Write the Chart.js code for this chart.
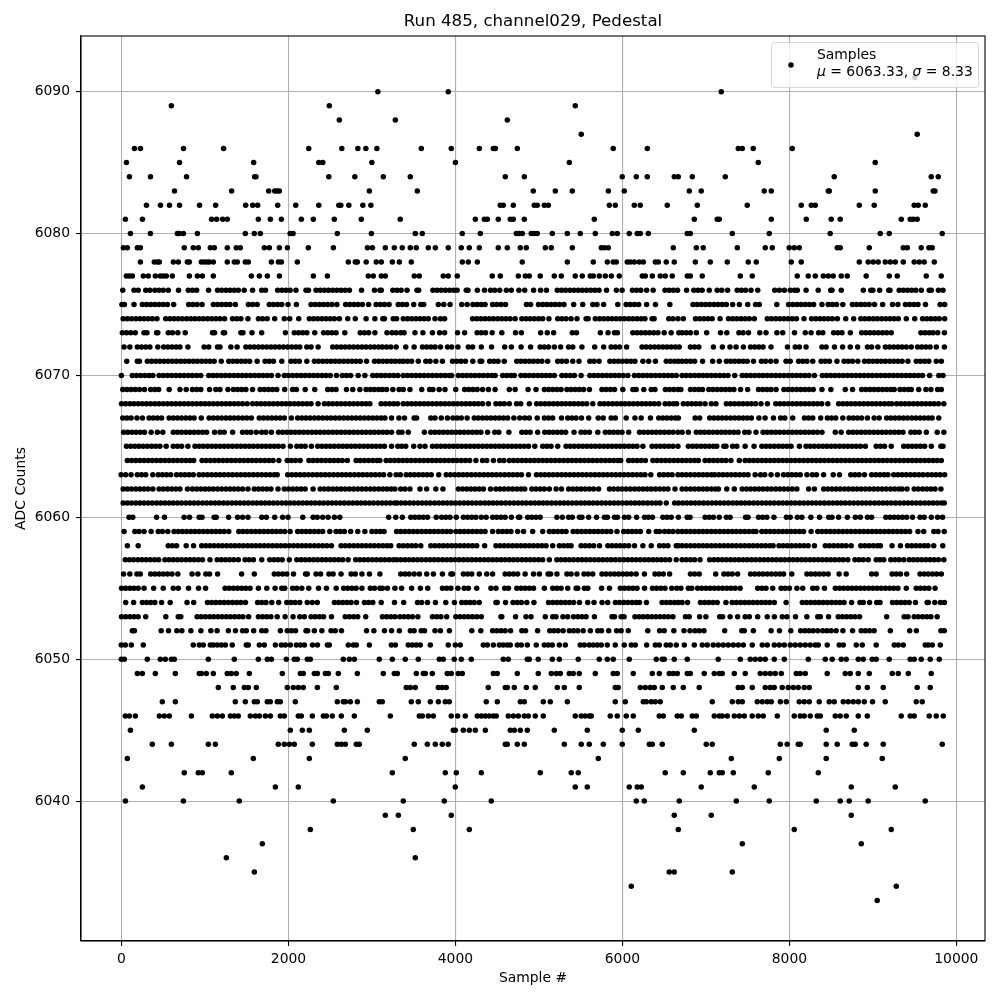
<!DOCTYPE html>
<html>
<head>
<meta charset="utf-8">
<title>Run 485, channel029, Pedestal</title>
<script src="https://cdn.jsdelivr.net/npm/chart.js@4/dist/chart.umd.min.js"></script>
<style>
  html, body { margin: 0; padding: 0; background: #fff; }
  #wrap { width: 1000px; height: 1000px; }
</style>
</head>
<body>
<div id="wrap"><canvas id="myChart" width="1000" height="1000"></canvas></div>
<script>
// Tick labels
const xTicks = [0, 2000, 4000, 6000, 8000, 10000];
const yTicks = [6040, 6050, 6060, 6070, 6080, 6090];

// Sample numbers, one list per ADC level
const r6091 = [9503];
const r6090 = [3071, 3914, 7184];
const r6089 = [597, 2489, 5435];
const r6088 = [2609, 3280, 4621];
const r6087 = [5507, 9531];
const r6086 = [155, 227, 743, 1223, 2243, 2639, 2831, 2927, 3059, 3591, 3950, 4286, 4454, 4478, 4741, 5890, 6298, 7388, 7436, 7567, 8034];
const r6085 = [59, 695, 1583, 2363, 2411, 2999, 4000, 5364, 7627, 9028];
const r6084 = [95, 347, 779, 1595, 1611, 2483, 2795, 3136, 3459, 4597, 4825, 5998, 6166, 6298, 6621, 6669, 6837, 7232, 8537, 9699, 9783];
const r6083 = [635, 1319, 1763, 1835, 1863, 1891, 2969, 3543, 4932, 5196, 5400, 5831, 6022, 6801, 6944, 7699, 7783, 8466, 8478, 9028, 9723, 9743];
const r6082 = [299, 467, 575, 695, 935, 1127, 1487, 1571, 1631, 1871, 2087, 2363, 2603, 2627, 2723, 2891, 2987, 4537, 4573, 4693, 4944, 4980, 5064, 5112, 5843, 5915, 6142, 6214, 6537, 6897, 7495, 8142, 8262, 8310, 8837, 9016, 9495, 9543, 9627];
const r6081 = [47, 251, 1079, 1139, 1211, 1267, 1639, 1783, 1915, 2154, 2298, 2549, 2873, 3339, 4238, 4346, 4382, 4513, 4657, 4693, 4825, 5663, 6861, 7136, 7160, 7783, 8202, 8501, 8609, 9340, 9447, 9483, 9531];
const r6080 = [107, 347, 669, 693, 741, 909, 1483, 1591, 1663, 2020, 2055, 2585, 2993, 3519, 3603, 4082, 4298, 4729, 4765, 4801, 4908, 4944, 4980, 5160, 5340, 5495, 5675, 5879, 5938, 6082, 6178, 6214, 6310, 6777, 6813, 7316, 7759, 8489, 9088, 9196, 9831];
const r6079 = [22, 70, 190, 226, 752, 860, 920, 1064, 1112, 1267, 1375, 1423, 1711, 1771, 1891, 1987, 2238, 2538, 2946, 3006, 3160, 3268, 3363, 3459, 3531, 3675, 3759, 3914, 4070, 4166, 4286, 4513, 4621, 4777, 4849, 5076, 5148, 5400, 5747, 5783, 5831, 6609, 6885, 6968, 7376, 7711, 7795, 7998, 8058, 8118, 8573, 8609, 8957, 9364, 9412, 9579, 9671, 9711];
const r6078 = [226, 393, 429, 453, 621, 681, 789, 813, 956, 992, 1028, 1052, 1100, 1267, 1351, 1387, 1483, 1519, 1795, 1879, 1915, 2106, 2717, 2801, 2825, 2931, 3051, 3112, 3244, 3328, 3471, 4082, 4154, 4262, 4800, 5340, 5651, 5819, 5890, 5926, 6058, 6094, 6142, 6202, 6250, 6394, 6430, 6525, 6621, 6873, 7052, 7256, 7507, 7603, 8022, 8142, 8837, 8944, 9004, 9064, 9148, 9208, 9268, 9364, 9495, 9555, 9615, 9735];
const r6077 = [58, 94, 130, 261, 321, 405, 465, 501, 537, 609, 813, 909, 969, 1100, 1555, 1651, 1747, 1891, 2298, 2466, 2956, 3016, 3112, 3160, 3507, 3567, 3854, 3914, 4022, 4441, 4537, 4753, 4837, 4884, 5016, 5184, 5268, 5435, 5519, 5615, 5651, 5723, 5795, 5867, 5962, 6238, 6274, 6358, 6453, 6513, 6597, 6777, 6813, 6956, 7412, 7555, 8094, 8226, 8310, 8406, 8466, 8525, 8621, 8693, 8920, 9196, 9292, 9639, 9819];
const r6076 = [15, 150, 200, 290, 340, 400, 450, 500, 560, 683, 800, 850, 900, 1043, 1150, 1200, 1250, 1300, 1350, 1400, 1470, 1570, 1680, 1725, 1870, 1920, 1970, 2020, 2090, 2210, 2240, 2330, 2380, 2430, 2480, 2530, 2580, 2630, 2680, 2730, 2875, 3030, 3095, 3112, 3250, 3300, 3350, 3420, 3540, 3560, 3730, 3780, 3830, 3880, 3930, 3980, 4020, 4130, 4150, 4262, 4348, 4420, 4470, 4530, 4610, 4670, 4760, 4830, 4936, 5020, 5090, 5220, 5270, 5320, 5370, 5420, 5470, 5520, 5570, 5620, 5670, 5720, 5810, 5928, 5996, 6120, 6170, 6220, 6290, 6368, 6510, 6560, 6610, 6660, 6769, 6855, 6905, 6955, 7040, 7135, 7190, 7260, 7375, 7425, 7475, 7540, 7621, 7825, 7880, 7940, 8010, 8060, 8095, 8200, 8345, 8495, 8510, 8621, 8885, 8975, 9000, 9081, 9190, 9205, 9315, 9365, 9415, 9465, 9515, 9580, 9675, 9700, 9785, 9840];
const r6075 = [5, 35, 150, 250, 300, 350, 400, 450, 500, 550, 625, 805, 855, 905, 965, 1100, 1150, 1200, 1250, 1300, 1365, 1520, 1570, 1625, 1770, 1820, 1870, 1920, 1995, 2095, 2270, 2320, 2370, 2420, 2470, 2520, 2580, 2685, 2735, 2785, 2835, 2885, 2960, 3050, 3100, 3150, 3205, 3315, 3365, 3415, 3500, 3585, 3620, 3795, 3860, 3935, 4075, 4140, 4210, 4260, 4310, 4355, 4445, 4495, 4545, 4600, 4850, 4900, 4995, 5045, 5095, 5145, 5195, 5245, 5300, 5416, 5524, 5645, 5695, 5775, 5944, 6045, 6095, 6145, 6195, 6290, 6396, 6568, 6845, 6895, 6945, 6995, 7045, 7095, 7145, 7195, 7245, 7320, 7401, 7501, 7595, 7640, 7849, 7990, 8040, 8090, 8140, 8190, 8240, 8290, 8390, 8465, 8515, 8565, 8640, 8755, 8805, 8855, 8905, 8955, 9020, 9117, 9235, 9300, 9390, 9440, 9490, 9540, 9630, 9805, 9860];
const r6074 = [20, 70, 120, 170, 220, 270, 320, 370, 425, 530, 580, 630, 680, 730, 780, 830, 880, 930, 980, 1030, 1080, 1130, 1180, 1235, 1330, 1380, 1430, 1515, 1640, 1690, 1745, 1835, 1950, 2015, 2123, 2250, 2300, 2350, 2400, 2450, 2500, 2550, 2610, 2710, 2800, 2930, 3035, 3130, 3150, 3255, 3295, 3375, 3425, 3475, 3525, 3575, 3625, 3675, 3755, 3820, 3870, 4205, 4255, 4305, 4355, 4405, 4455, 4505, 4555, 4605, 4655, 4715, 4795, 4845, 4895, 4945, 4995, 5045, 5120, 5225, 5275, 5325, 5385, 5456, 5565, 5590, 5675, 5725, 5775, 5825, 5875, 5925, 5975, 6025, 6075, 6125, 6175, 6225, 6270, 6355, 6380, 6555, 6605, 6665, 6729, 6875, 6925, 6975, 7025, 7075, 7170, 7270, 7320, 7370, 7420, 7470, 7520, 7580, 7735, 7785, 7835, 7885, 7935, 7985, 8035, 8085, 8175, 8265, 8315, 8365, 8415, 8465, 8515, 8575, 8675, 8770, 8855, 8905, 8955, 9005, 9055, 9105, 9155, 9205, 9255, 9305, 9400, 9501, 9595, 9645, 9695, 9745, 9795, 9860];
const r6073 = [10, 60, 110, 165, 270, 305, 420, 435, 560, 610, 675, 763, 1090, 1115, 1220, 1235, 1430, 1455, 1563, 1679, 1963, 2070, 2120, 2170, 2220, 2315, 2420, 2470, 2520, 2570, 2675, 2860, 2910, 2960, 3035, 3180, 3240, 3290, 3345, 3385, 3515, 3610, 3724, 3810, 3870, 4025, 4110, 4260, 4310, 4360, 4440, 4556, 4720, 4790, 5020, 5100, 5176, 5400, 5450, 5736, 5828, 5905, 5940, 6125, 6175, 6225, 6275, 6325, 6375, 6425, 6500, 6584, 6676, 6715, 6765, 6815, 6885, 7009, 7175, 7250, 7395, 7445, 7510, 7645, 7720, 7850, 7920, 8061, 8190, 8260, 8350, 8400, 8530, 8580, 8630, 8730, 8865, 8915, 8965, 9015, 9065, 9115, 9165, 9220, 9575, 9625, 9675, 9720, 9777, 9857];
const r6072 = [30, 100, 190, 240, 290, 340, 435, 505, 555, 605, 655, 700, 795, 990, 1045, 1150, 1180, 1310, 1385, 1490, 1540, 1590, 1640, 1690, 1740, 1790, 1840, 1890, 1940, 1990, 2040, 2090, 2135, 2220, 2270, 2355, 2530, 2580, 2630, 2680, 2730, 2780, 2830, 2880, 2930, 2980, 3030, 3080, 3125, 3175, 3225, 3290, 3405, 3505, 3605, 3655, 3705, 3755, 3820, 3905, 3955, 4030, 4155, 4205, 4310, 4432, 4590, 4670, 4786, 4900, 5015, 5065, 5115, 5185, 5260, 5355, 5405, 5515, 5668, 5776, 5865, 5915, 5965, 6050, 6235, 6285, 6335, 6385, 6435, 6485, 6535, 6585, 6635, 6680, 6815, 6865, 6915, 7090, 7197, 7289, 7361, 7449, 7535, 7585, 7635, 7685, 7780, 7977, 8070, 8120, 8200, 8390, 8440, 8540, 8637, 8729, 8817, 8935, 8985, 9060, 9150, 9200, 9250, 9300, 9350, 9400, 9460, 9535, 9585, 9635, 9685, 9760, 9857];
const r6071 = [63, 190, 215, 310, 360, 410, 460, 510, 560, 610, 660, 710, 760, 810, 860, 910, 960, 1010, 1060, 1110, 1195, 1285, 1335, 1385, 1435, 1485, 1535, 1625, 1720, 1770, 1820, 1920, 2030, 2080, 2130, 2220, 2310, 2360, 2410, 2460, 2510, 2560, 2610, 2660, 2710, 2760, 2810, 2860, 2935, 3030, 3080, 3130, 3180, 3230, 3280, 3330, 3375, 3425, 3475, 3555, 3645, 3695, 3765, 3844, 3965, 4015, 4065, 4120, 4208, 4295, 4315, 4410, 4460, 4510, 4585, 4735, 4785, 4835, 4885, 4935, 4985, 5035, 5105, 5225, 5275, 5330, 5405, 5480, 5610, 5660, 5720, 5850, 5900, 5950, 6000, 6050, 6100, 6150, 6245, 6315, 6396, 6525, 6575, 6625, 6670, 6715, 6765, 6815, 6865, 6960, 7080, 7160, 7245, 7295, 7345, 7395, 7445, 7495, 7570, 7665, 7715, 7775, 7841, 7960, 8010, 8110, 8160, 8210, 8280, 8380, 8430, 8480, 8570, 8655, 8705, 8755, 8820, 8900, 8950, 9000, 9050, 9100, 9150, 9200, 9250, 9300, 9350, 9420, 9520, 9570, 9620, 9670, 9760, 9820];
const r6070 = [-1, 130, 180, 230, 280, 330, 375, 450, 500, 550, 600, 650, 700, 750, 800, 850, 900, 950, 1045, 1095, 1145, 1195, 1245, 1295, 1345, 1395, 1445, 1495, 1545, 1595, 1645, 1695, 1745, 1795, 1875, 1950, 2000, 2050, 2100, 2150, 2200, 2250, 2300, 2350, 2400, 2450, 2500, 2575, 2645, 2695, 2745, 2835, 2915, 3010, 3060, 3110, 3160, 3210, 3260, 3310, 3375, 3425, 3475, 3525, 3575, 3625, 3675, 3725, 3775, 3825, 3875, 3925, 3955, 4035, 4085, 4135, 4185, 4235, 4285, 4335, 4385, 4435, 4475, 4565, 4615, 4665, 4705, 4785, 4835, 4885, 4935, 4985, 5035, 5085, 5135, 5185, 5275, 5325, 5375, 5425, 5505, 5610, 5660, 5710, 5760, 5810, 5860, 5910, 5960, 6010, 6065, 6145, 6195, 6245, 6295, 6345, 6395, 6445, 6495, 6545, 6595, 6645, 6715, 6765, 6815, 6865, 6915, 6965, 7015, 7065, 7115, 7165, 7215, 7265, 7345, 7435, 7485, 7535, 7585, 7635, 7685, 7735, 7785, 7835, 7885, 7935, 7985, 8035, 8085, 8135, 8185, 8235, 8300, 8395, 8445, 8495, 8545, 8595, 8645, 8695, 8745, 8795, 8845, 8895, 8945, 8995, 9045, 9095, 9145, 9195, 9245, 9295, 9345, 9395, 9445, 9495, 9545, 9595, 9680, 9790, 9840];
const r6069 = [15, 65, 115, 165, 215, 275, 350, 400, 445, 571, 700, 775, 850, 900, 950, 1055, 1130, 1180, 1275, 1340, 1390, 1440, 1490, 1570, 1660, 1710, 1760, 1810, 1860, 1955, 2050, 2095, 2200, 2315, 2470, 2520, 2570, 2695, 2770, 2855, 2930, 2980, 3030, 3080, 3125, 3175, 3250, 3325, 3375, 3455, 3596, 3690, 3730, 3805, 3875, 4004, 4110, 4160, 4210, 4260, 4325, 4395, 4475, 4645, 4715, 4870, 4965, 5065, 5115, 5165, 5215, 5265, 5335, 5385, 5435, 5485, 5535, 5605, 5755, 5805, 5855, 5905, 6005, 6125, 6165, 6256, 6345, 6390, 6515, 6565, 6615, 6665, 6700, 6815, 6865, 6915, 6960, 7035, 7085, 7135, 7185, 7235, 7285, 7335, 7415, 7500, 7630, 7680, 7730, 7780, 7840, 7935, 7985, 8035, 8085, 8135, 8185, 8235, 8285, 8390, 8497, 8669, 8757, 8865, 8915, 8965, 9015, 9065, 9115, 9165, 9215, 9255, 9325, 9375, 9425, 9460, 9549, 9635, 9695, 9775, 9820];
const r6068 = [0, 50, 100, 150, 200, 250, 300, 350, 400, 450, 500, 550, 600, 650, 700, 750, 800, 850, 900, 950, 1000, 1050, 1100, 1150, 1200, 1250, 1300, 1350, 1400, 1450, 1505, 1570, 1620, 1670, 1720, 1770, 1820, 1870, 1920, 1970, 2020, 2070, 2120, 2170, 2220, 2270, 2355, 2430, 2480, 2530, 2580, 2630, 2680, 2730, 2780, 2830, 2880, 2930, 2975, 3110, 3160, 3210, 3260, 3306, 3374, 3424, 3474, 3524, 3574, 3624, 3674, 3724, 3774, 3824, 3874, 3924, 3974, 4024, 4074, 4124, 4174, 4224, 4274, 4324, 4395, 4485, 4535, 4585, 4645, 4732, 4782, 4885, 4972, 5022, 5072, 5122, 5172, 5222, 5272, 5322, 5372, 5422, 5472, 5522, 5572, 5645, 5732, 5782, 5832, 5882, 5932, 5982, 6032, 6082, 6132, 6182, 6232, 6282, 6332, 6382, 6435, 6512, 6562, 6612, 6650, 6730, 6780, 6830, 6880, 6930, 6990, 7065, 7120, 7245, 7295, 7345, 7395, 7445, 7495, 7545, 7595, 7660, 7737, 7837, 7887, 7937, 7987, 8037, 8087, 8137, 8187, 8237, 8287, 8337, 8387, 8460, 8590, 8640, 8690, 8740, 8790, 8840, 8890, 8940, 8990, 9040, 9090, 9140, 9190, 9225, 9285, 9335, 9385, 9435, 9485, 9535, 9585, 9635, 9685, 9735, 9785, 9850];
const r6067 = [15, 65, 115, 185, 251, 330, 380, 430, 480, 570, 620, 670, 720, 770, 820, 870, 955, 1050, 1100, 1150, 1200, 1250, 1300, 1350, 1400, 1450, 1500, 1555, 1650, 1700, 1750, 1800, 1850, 1900, 1950, 2035, 2110, 2160, 2210, 2260, 2310, 2360, 2410, 2460, 2510, 2560, 2610, 2660, 2710, 2760, 2810, 2860, 2910, 2960, 3010, 3060, 3110, 3155, 3235, 3323, 3390, 3505, 3535, 3705, 3755, 3830, 3904, 3970, 4020, 4070, 4140, 4225, 4275, 4325, 4375, 4425, 4475, 4525, 4575, 4625, 4700, 4770, 4830, 4885, 4980, 5065, 5115, 5165, 5270, 5345, 5395, 5445, 5510, 5596, 5710, 5770, 5865, 5915, 6045, 6150, 6224, 6336, 6435, 6485, 6535, 6585, 6635, 6670, 6870, 6925, 7045, 7095, 7145, 7195, 7245, 7295, 7345, 7395, 7445, 7495, 7545, 7635, 7709, 7809, 7895, 7945, 8040, 8180, 8230, 8280, 8375, 8455, 8505, 8555, 8640, 8715, 8765, 8815, 8865, 8935, 9015, 9075, 9165, 9215, 9265, 9315, 9365, 9415, 9465, 9515, 9565, 9615, 9665, 9710, 9789];
const r6066 = [25, 75, 125, 175, 225, 275, 355, 430, 495, 620, 670, 720, 770, 820, 870, 920, 970, 1020, 1115, 1180, 1230, 1331, 1450, 1500, 1550, 1615, 1680, 1730, 1795, 1880, 1930, 1980, 2030, 2080, 2130, 2180, 2230, 2280, 2330, 2380, 2430, 2480, 2530, 2580, 2630, 2680, 2730, 2780, 2830, 2880, 2930, 2980, 3030, 3080, 3130, 3180, 3235, 3320, 3360, 3435, 3628, 3705, 3755, 3805, 3855, 3905, 3955, 4005, 4055, 4105, 4155, 4205, 4255, 4305, 4385, 4470, 4520, 4640, 4795, 4845, 4895, 4985, 5070, 5120, 5170, 5220, 5270, 5320, 5420, 5505, 5555, 5605, 5705, 5795, 5845, 5895, 5945, 5995, 6075, 6205, 6255, 6305, 6355, 6405, 6455, 6505, 6555, 6605, 6665, 6715, 6790, 6885, 6935, 6985, 7035, 7085, 7135, 7185, 7235, 7285, 7335, 7385, 7465, 7515, 7600, 7685, 7735, 7785, 7835, 7885, 7935, 7985, 8035, 8085, 8135, 8185, 8235, 8285, 8335, 8390, 8550, 8620, 8710, 8760, 8810, 8860, 8910, 8960, 9010, 9060, 9110, 9160, 9210, 9260, 9310, 9360, 9455, 9505, 9555, 9640, 9770, 9850];
const r6065 = [60, 110, 160, 210, 260, 310, 360, 410, 460, 535, 620, 670, 720, 795, 880, 930, 980, 1030, 1080, 1130, 1180, 1230, 1280, 1330, 1380, 1430, 1480, 1530, 1580, 1630, 1680, 1730, 1780, 1830, 1880, 1935, 2023, 2100, 2150, 2200, 2275, 2350, 2400, 2450, 2500, 2550, 2600, 2650, 2700, 2750, 2800, 2850, 2900, 2950, 3000, 3050, 3100, 3150, 3235, 3310, 3355, 3405, 3500, 3575, 3635, 3725, 3775, 3825, 3875, 3925, 3975, 4025, 4075, 4125, 4175, 4225, 4275, 4325, 4375, 4425, 4475, 4525, 4575, 4625, 4675, 4725, 4775, 4825, 4875, 4950, 5045, 5095, 5145, 5225, 5325, 5375, 5425, 5475, 5525, 5575, 5625, 5675, 5725, 5775, 5825, 5875, 5925, 5975, 6025, 6075, 6125, 6175, 6245, 6355, 6405, 6455, 6505, 6555, 6605, 6665, 6790, 6840, 6890, 6940, 6990, 7040, 7090, 7130, 7215, 7240, 7320, 7370, 7470, 7577, 7670, 7720, 7770, 7820, 7870, 7920, 7970, 8020, 8120, 8200, 8250, 8300, 8350, 8400, 8450, 8500, 8550, 8600, 8650, 8700, 8750, 8800, 8850, 8910, 9040, 9090, 9140, 9220, 9370, 9420, 9470, 9520, 9570, 9620, 9700, 9815, 9840];
const r6064 = [70, 120, 170, 220, 270, 320, 370, 420, 470, 520, 570, 620, 670, 720, 770, 820, 865, 965, 1015, 1065, 1115, 1165, 1215, 1265, 1315, 1365, 1415, 1465, 1515, 1565, 1615, 1665, 1715, 1765, 1815, 1885, 1985, 2035, 2085, 2140, 2245, 2295, 2345, 2395, 2445, 2495, 2545, 2595, 2645, 2705, 2810, 2860, 2910, 2960, 3010, 3060, 3095, 3170, 3220, 3270, 3320, 3370, 3420, 3470, 3520, 3570, 3620, 3670, 3720, 3770, 3820, 3870, 3920, 3970, 4020, 4070, 4120, 4170, 4245, 4325, 4375, 4455, 4530, 4580, 4645, 4695, 4745, 4795, 4845, 4895, 4945, 4995, 5045, 5095, 5145, 5195, 5245, 5295, 5345, 5395, 5445, 5495, 5545, 5595, 5645, 5695, 5745, 5795, 5845, 5895, 5945, 5980, 6075, 6125, 6175, 6225, 6275, 6365, 6415, 6465, 6515, 6565, 6615, 6665, 6715, 6765, 6815, 6865, 6910, 6990, 7040, 7090, 7140, 7190, 7240, 7300, 7400, 7470, 7520, 7570, 7620, 7670, 7720, 7770, 7820, 7870, 7920, 7970, 8020, 8070, 8120, 8170, 8220, 8270, 8320, 8370, 8420, 8470, 8520, 8570, 8620, 8670, 8720, 8770, 8820, 8870, 8920, 8970, 9020, 9070, 9120, 9170, 9220, 9270, 9320, 9370, 9420, 9470, 9520, 9570, 9620, 9670, 9720, 9770, 9820];
const r6063 = [-5, 50, 115, 190, 240, 290, 375, 440, 490, 540, 590, 660, 710, 760, 810, 860, 930, 980, 1030, 1080, 1130, 1180, 1230, 1280, 1330, 1380, 1430, 1480, 1530, 1580, 1630, 1680, 1730, 1780, 1830, 1865, 1990, 2040, 2090, 2140, 2190, 2240, 2290, 2340, 2390, 2440, 2490, 2540, 2590, 2640, 2690, 2740, 2790, 2840, 2890, 2940, 2990, 3040, 3090, 3140, 3215, 3290, 3340, 3410, 3460, 3510, 3560, 3610, 3660, 3710, 3800, 3890, 3940, 3990, 4040, 4090, 4140, 4190, 4240, 4290, 4340, 4390, 4440, 4490, 4540, 4590, 4640, 4690, 4740, 4790, 4875, 4970, 5020, 5070, 5120, 5170, 5220, 5270, 5320, 5370, 5420, 5470, 5520, 5570, 5620, 5670, 5720, 5770, 5820, 5870, 5920, 5970, 6020, 6070, 6120, 6170, 6220, 6270, 6340, 6445, 6495, 6545, 6595, 6665, 6715, 6765, 6815, 6865, 6915, 6965, 7015, 7065, 7105, 7155, 7205, 7255, 7305, 7355, 7405, 7455, 7505, 7590, 7655, 7705, 7780, 7857, 7930, 7980, 8030, 8080, 8130, 8210, 8275, 8325, 8410, 8525, 8600, 8735, 8785, 8835, 8900, 8985, 9035, 9085, 9135, 9180, 9250, 9300, 9350, 9400, 9450, 9500, 9550, 9600, 9655, 9705, 9755, 9805, 9860];
const r6062 = [20, 70, 120, 170, 220, 270, 320, 375, 450, 500, 550, 600, 650, 700, 790, 850, 900, 950, 1000, 1050, 1100, 1150, 1200, 1250, 1300, 1350, 1400, 1450, 1515, 1590, 1640, 1690, 1740, 1790, 1875, 1950, 2000, 2050, 2100, 2150, 2200, 2295, 2380, 2430, 2480, 2530, 2580, 2630, 2680, 2730, 2780, 2830, 2880, 2930, 2980, 3030, 3080, 3130, 3180, 3230, 3275, 3345, 3395, 3455, 3575, 3655, 3765, 3850, 4035, 4085, 4135, 4185, 4235, 4285, 4335, 4420, 4485, 4535, 4585, 4635, 4685, 4735, 4785, 4830, 4915, 4965, 5015, 5065, 5125, 5205, 5270, 5355, 5405, 5455, 5505, 5555, 5605, 5655, 5715, 5845, 5895, 5945, 5995, 6045, 6095, 6145, 6195, 6245, 6295, 6345, 6395, 6445, 6495, 6545, 6630, 6715, 6765, 6815, 6865, 6915, 6965, 7015, 7065, 7115, 7150, 7250, 7340, 7435, 7485, 7535, 7585, 7635, 7685, 7735, 7785, 7835, 7885, 7935, 7985, 8035, 8090, 8230, 8300, 8410, 8460, 8510, 8560, 8610, 8660, 8710, 8760, 8810, 8860, 8910, 8960, 9010, 9060, 9110, 9160, 9210, 9260, 9310, 9350, 9409, 9495, 9545, 9595, 9645, 9695, 9745, 9815];
const r6061 = [20, 70, 120, 170, 220, 270, 320, 370, 420, 470, 520, 570, 620, 670, 720, 770, 820, 870, 920, 970, 1020, 1070, 1120, 1170, 1220, 1270, 1320, 1370, 1420, 1470, 1520, 1570, 1620, 1670, 1720, 1770, 1820, 1870, 1920, 1970, 2020, 2070, 2120, 2170, 2220, 2270, 2320, 2370, 2420, 2470, 2520, 2570, 2620, 2670, 2720, 2770, 2820, 2870, 2920, 2970, 3020, 3070, 3120, 3170, 3220, 3270, 3300, 3350, 3400, 3450, 3500, 3550, 3600, 3650, 3700, 3750, 3800, 3850, 3900, 3950, 4000, 4050, 4100, 4150, 4200, 4250, 4300, 4350, 4400, 4450, 4500, 4550, 4600, 4650, 4700, 4750, 4800, 4850, 4900, 4950, 5000, 5050, 5100, 5150, 5200, 5250, 5300, 5350, 5400, 5450, 5500, 5550, 5600, 5650, 5700, 5750, 5800, 5850, 5900, 5950, 6000, 6050, 6100, 6150, 6200, 6250, 6300, 6350, 6400, 6450, 6525, 6625, 6670, 6720, 6770, 6820, 6870, 6920, 6970, 7020, 7070, 7120, 7170, 7220, 7270, 7320, 7370, 7420, 7470, 7520, 7570, 7620, 7670, 7720, 7770, 7820, 7870, 7920, 7970, 8020, 8070, 8120, 8170, 8220, 8270, 8320, 8370, 8420, 8470, 8520, 8570, 8620, 8670, 8720, 8770, 8820, 8870, 8920, 8970, 9020, 9070, 9120, 9170, 9220, 9270, 9320, 9370, 9420, 9470, 9520, 9570, 9620, 9670, 9720, 9770, 9820, 9855];
const r6060 = [90, 135, 420, 515, 750, 815, 930, 965, 1110, 1135, 1283, 1390, 1450, 1515, 1680, 1735, 1835, 1930, 1995, 2171, 2295, 2345, 2410, 2475, 2550, 2615, 3200, 3285, 3364, 3465, 3515, 3565, 3615, 3665, 3770, 3835, 3885, 3935, 4010, 4095, 4145, 4195, 4245, 4310, 4368, 4445, 4495, 4545, 4595, 4670, 4755, 4770, 4865, 4915, 4965, 5015, 5215, 5280, 5355, 5400, 5485, 5515, 5595, 5690, 5785, 5820, 5905, 5940, 6025, 6075, 6170, 6265, 6310, 6360, 6485, 6535, 6585, 6670, 6775, 6810, 6990, 7040, 7090, 7160, 7245, 7290, 7475, 7505, 7630, 7680, 7730, 7815, 7965, 8010, 8095, 8150, 8257, 8361, 8470, 8510, 8589, 8695, 8790, 8850, 8935, 8985, 9155, 9205, 9255, 9305, 9355, 9405, 9475, 9565, 9615, 9700, 9775, 9835];
const r6059 = [31, 160, 210, 270, 355, 440, 490, 555, 630, 680, 730, 780, 830, 880, 930, 980, 1030, 1080, 1130, 1180, 1230, 1285, 1405, 1455, 1505, 1555, 1605, 1655, 1705, 1755, 1805, 1855, 1905, 1955, 2020, 2110, 2160, 2210, 2260, 2310, 2360, 2410, 2495, 2570, 2620, 2670, 2745, 2830, 2915, 3000, 3050, 3100, 3145, 3295, 3345, 3395, 3445, 3495, 3545, 3595, 3645, 3695, 3745, 3795, 3845, 3895, 3940, 4005, 4055, 4105, 4155, 4205, 4255, 4305, 4355, 4445, 4515, 4565, 4615, 4665, 4745, 4816, 4925, 5045, 5125, 5175, 5225, 5275, 5325, 5410, 5460, 5510, 5560, 5610, 5660, 5710, 5760, 5810, 5860, 5935, 6015, 6065, 6115, 6165, 6215, 6315, 6405, 6445, 6505, 6555, 6605, 6665, 6715, 6765, 6815, 6865, 6915, 6965, 7015, 7065, 7115, 7165, 7215, 7265, 7315, 7365, 7415, 7465, 7515, 7565, 7600, 7670, 7720, 7770, 7820, 7870, 7920, 7970, 8020, 8070, 8120, 8170, 8260, 8340, 8390, 8440, 8490, 8540, 8590, 8640, 8690, 8740, 8790, 8840, 8890, 8940, 8990, 9040, 9090, 9140, 9190, 9240, 9290, 9340, 9390, 9440, 9540, 9609, 9730, 9780, 9855];
const r6058 = [70, 200, 560, 610, 660, 775, 863, 960, 1010, 1060, 1110, 1160, 1210, 1260, 1310, 1360, 1410, 1460, 1510, 1560, 1610, 1660, 1710, 1760, 1810, 1860, 1910, 1960, 2010, 2060, 2110, 2160, 2210, 2260, 2310, 2360, 2410, 2460, 2515, 2630, 2680, 2730, 2780, 2830, 2880, 2930, 2980, 3030, 3080, 3130, 3180, 3225, 3325, 3375, 3425, 3475, 3525, 3585, 3705, 3755, 3805, 3855, 3905, 3955, 4005, 4055, 4105, 4155, 4205, 4255, 4350, 4485, 4535, 4585, 4635, 4685, 4735, 4785, 4835, 4885, 4935, 4985, 5035, 5085, 5165, 5245, 5295, 5345, 5385, 5505, 5555, 5605, 5655, 5725, 5825, 5875, 5925, 5975, 6025, 6075, 6145, 6245, 6345, 6445, 6495, 6545, 6645, 6670, 6715, 6765, 6815, 6865, 6915, 6965, 7015, 7065, 7115, 7165, 7215, 7265, 7315, 7365, 7415, 7465, 7515, 7565, 7615, 7665, 7715, 7765, 7805, 7875, 7925, 7975, 8025, 8075, 8125, 8175, 8225, 8300, 8430, 8480, 8530, 8580, 8630, 8680, 8740, 8855, 8905, 8955, 9005, 9055, 9090, 9230, 9330, 9415, 9465, 9515, 9565, 9615, 9660, 9729, 9837];
const r6057 = [45, 95, 145, 195, 245, 295, 345, 395, 445, 520, 570, 620, 670, 720, 770, 820, 870, 920, 970, 1060, 1145, 1195, 1245, 1295, 1345, 1400, 1480, 1530, 1580, 1680, 1775, 1825, 1875, 1925, 2010, 2100, 2150, 2200, 2250, 2300, 2350, 2400, 2450, 2500, 2550, 2600, 2650, 2715, 2805, 2855, 2905, 2955, 3005, 3055, 3105, 3155, 3205, 3255, 3295, 3345, 3395, 3445, 3495, 3545, 3595, 3645, 3695, 3745, 3795, 3845, 3895, 3945, 3995, 4045, 4095, 4145, 4195, 4245, 4295, 4345, 4395, 4445, 4495, 4545, 4595, 4645, 4695, 4745, 4795, 4845, 4895, 4945, 4995, 5045, 5125, 5215, 5265, 5315, 5365, 5415, 5465, 5515, 5565, 5615, 5665, 5715, 5765, 5815, 5865, 5915, 5965, 6015, 6065, 6115, 6165, 6215, 6265, 6315, 6365, 6415, 6465, 6515, 6565, 6645, 6715, 6765, 6815, 6865, 6930, 7045, 7095, 7145, 7195, 7245, 7295, 7345, 7395, 7445, 7495, 7545, 7595, 7645, 7695, 7745, 7795, 7845, 7895, 7945, 7995, 8045, 8095, 8145, 8195, 8245, 8295, 8345, 8395, 8445, 8495, 8545, 8595, 8645, 8700, 8785, 8835, 8885, 8945, 9040, 9085, 9130, 9215, 9265, 9315, 9370, 9435, 9485, 9535, 9585, 9635, 9685, 9735, 9785, 9850];
const r6056 = [25, 100, 185, 225, 350, 400, 450, 500, 550, 605, 675, 845, 915, 1010, 1055, 1151, 1439, 1591, 1830, 1880, 1930, 1980, 2060, 2205, 2225, 2330, 2385, 2485, 2535, 2630, 2750, 2800, 2880, 2970, 3095, 3345, 3395, 3445, 3505, 3568, 3656, 3736, 3844, 3945, 3965, 4095, 4145, 4195, 4285, 4375, 4445, 4595, 4645, 4695, 4745, 4835, 4935, 5005, 5110, 5140, 5216, 5335, 5385, 5455, 5540, 5590, 5645, 5755, 5805, 5855, 5905, 5955, 6005, 6055, 6105, 6165, 6264, 6390, 6440, 6490, 6565, 6815, 6865, 6920, 7117, 7215, 7265, 7315, 7380, 7535, 7585, 7635, 7685, 7735, 7785, 7835, 7885, 7930, 8029, 8210, 8260, 8310, 8360, 8410, 8465, 8595, 8680, 8985, 9040, 9230, 9280, 9330, 9405, 9565, 9615, 9665, 9715, 9765, 9820];
const r6055 = [0, 50, 100, 150, 200, 270, 385, 500, 620, 680, 803, 923, 1007, 1240, 1290, 1340, 1390, 1440, 1490, 1540, 1640, 1740, 1840, 1920, 1955, 2050, 2100, 2160, 2243, 2360, 2455, 2571, 2660, 2710, 2760, 2810, 2880, 2980, 3030, 3095, 3125, 3185, 3275, 3355, 3475, 3580, 3668, 3845, 3895, 3945, 4030, 4105, 4155, 4255, 4425, 4485, 4590, 4635, 4735, 4785, 4835, 4885, 4935, 5065, 5165, 5215, 5265, 5345, 5445, 5465, 5545, 5585, 5750, 5845, 5975, 6025, 6075, 6125, 6175, 6265, 6360, 6410, 6460, 6510, 6590, 6650, 6700, 6790, 6830, 6900, 6950, 7000, 7050, 7100, 7150, 7200, 7250, 7300, 7350, 7410, 7620, 7670, 7720, 7800, 7900, 7950, 8000, 8090, 8160, 8280, 8330, 8420, 8550, 8600, 8650, 8700, 8750, 8800, 8850, 8900, 8950, 9000, 9050, 9100, 9150, 9200, 9250, 9300, 9400, 9520, 9570, 9620, 9670, 9745];
const r6054 = [50, 145, 250, 300, 350, 400, 480, 583, 785, 865, 1030, 1080, 1130, 1180, 1230, 1280, 1330, 1380, 1430, 1485, 1630, 1680, 1730, 1800, 1883, 1980, 2030, 2080, 2135, 2225, 2285, 2345, 2550, 2600, 2650, 2700, 2750, 2815, 2910, 2960, 3010, 3111, 3270, 3380, 3545, 3595, 3665, 3760, 3884, 3988, 4075, 4125, 4175, 4225, 4285, 4485, 4500, 4600, 4690, 4740, 4790, 4855, 4940, 5115, 5165, 5215, 5265, 5315, 5365, 5415, 5485, 5585, 5660, 5756, 5824, 5916, 5965, 6015, 6065, 6115, 6165, 6205, 6288, 6475, 6525, 6575, 6625, 6670, 6715, 6780, 6935, 6985, 7035, 7085, 7135, 7240, 7315, 7365, 7415, 7465, 7515, 7565, 7615, 7665, 7715, 7765, 7820, 7961, 8155, 8205, 8255, 8305, 8355, 8405, 8455, 8505, 8555, 8605, 8655, 8745, 8845, 8885, 8960, 9045, 9085, 9235, 9285, 9335, 9385, 9435, 9510, 9650, 9665, 9741, 9809, 9857];
const r6053 = [0, 50, 100, 150, 200, 290, 531, 680, 710, 905, 955, 1005, 1055, 1105, 1155, 1205, 1255, 1305, 1355, 1405, 1455, 1523, 1640, 1690, 1740, 1790, 1865, 1960, 2055, 2135, 2190, 2270, 2320, 2370, 2420, 2515, 2680, 2730, 2780, 2830, 2925, 3125, 3175, 3225, 3275, 3335, 3385, 3435, 3485, 3550, 3725, 3775, 3825, 3895, 4005, 4055, 4105, 4155, 4205, 4255, 4310, 4545, 4555, 4720, 4845, 4905, 5076, 5165, 5205, 5288, 5344, 5415, 5465, 5515, 5565, 5665, 5875, 5905, 5985, 6020, 6150, 6200, 6250, 6300, 6350, 6400, 6450, 6500, 6550, 6605, 6755, 6800, 6925, 7000, 7165, 7200, 7290, 7380, 7470, 7520, 7620, 7735, 7820, 7915, 7970, 8073, 8209, 8340, 8370, 8469, 8585, 8635, 8685, 8735, 8785, 8840, 9165, 9375, 9420, 9495, 9545, 9595, 9645, 9695, 9770];
const r6052 = [130, 155, 475, 563, 663, 723, 831, 951, 1070, 1145, 1280, 1365, 1450, 1495, 1583, 1680, 1730, 1903, 1985, 2035, 2085, 2210, 2230, 2310, 2400, 2510, 2560, 2635, 2935, 3023, 3150, 3235, 3328, 3460, 3505, 3590, 3630, 3755, 3820, 3928, 4196, 4304, 4445, 4495, 4545, 4595, 4660, 4795, 4840, 4984, 5130, 5180, 5230, 5290, 5365, 5415, 5465, 5530, 5616, 5705, 5750, 5836, 5930, 5985, 6070, 6304, 6445, 6500, 6616, 6737, 6809, 6869, 6921, 6977, 7225, 7430, 7460, 7569, 7781, 7881, 8017, 8135, 8185, 8235, 8285, 8340, 8400, 8450, 8500, 8560, 8641, 8757, 8860, 8910, 8960, 9015, 9209, 9441, 9521, 9815, 9855];
const r6051 = [-2, 46, 118, 261, 860, 932, 980, 1064, 1100, 1148, 1196, 1244, 1327, 1495, 1519, 1651, 1711, 1843, 1915, 1963, 2023, 2095, 2143, 2191, 2287, 2347, 2466, 2490, 2717, 2777, 2813, 2969, 3232, 3280, 3435, 3483, 3531, 3579, 3699, 3914, 3998, 4058, 4334, 4382, 4454, 4526, 4573, 4621, 4657, 4741, 4789, 4861, 4968, 5064, 5112, 5160, 5244, 5316, 5495, 5543, 5603, 5651, 5699, 5747, 5819, 5914, 6022, 6106, 6154, 6290, 6394, 6442, 6525, 6573, 6645, 6741, 6861, 6956, 7016, 7088, 7148, 7208, 7268, 7328, 7388, 7448, 7555, 7675, 7735, 7819, 7879, 7939, 8010, 8070, 8130, 8190, 8250, 8310, 8346, 8453, 8597, 8645, 8801, 8873, 9040, 9256, 9304, 9364, 9627, 9663, 9711, 9807];
const r6050 = [-2, 34, 309, 465, 525, 597, 633, 1040, 1351, 1639, 1747, 1795, 1974, 2070, 2106, 2226, 2262, 2657, 2729, 2789, 3088, 3244, 3399, 3555, 3807, 3854, 3986, 4070, 4190, 4573, 4633, 4861, 4884, 4992, 5160, 5244, 5471, 5723, 5819, 5890, 6082, 6405, 6477, 6501, 6621, 6777, 7148, 7412, 7531, 7591, 7651, 7711, 7819, 7939, 8226, 8430, 8513, 8621, 8681, 8825, 8885, 8992, 9040, 9196, 9447, 9495, 9579, 9687, 9795];
const r6049 = [190, 250, 405, 645, 932, 956, 1016, 1100, 1267, 1315, 1375, 1531, 1926, 2142, 2178, 2310, 2346, 2442, 2478, 2597, 2825, 3136, 3268, 3304, 3531, 3615, 3639, 3723, 3902, 3950, 4034, 4082, 4454, 4501, 4741, 4992, 5148, 5208, 5256, 5364, 5411, 5483, 5675, 5890, 5938, 6130, 6358, 6442, 6561, 6609, 6657, 6777, 6813, 6980, 7100, 7160, 7196, 7340, 7471, 7651, 7711, 7771, 7831, 7903, 8082, 8130, 8190, 8453, 8669, 8729, 8825, 8957, 9232, 9304, 9424, 9699];
const r6048 = [1160, 1339, 1471, 1519, 1615, 1986, 2058, 2118, 2178, 2346, 2573, 3411, 3459, 3519, 3795, 3842, 3890, 4393, 4597, 4621, 4705, 4849, 4956, 5220, 5304, 5483, 5914, 5950, 6214, 6274, 6334, 6382, 6477, 6609, 6729, 6920, 7388, 7436, 7555, 7711, 7771, 7819, 7914, 7986, 8046, 8106, 8178, 8238, 8825, 8933, 9124, 9531, 9687];
const r6047 = [489, 645, 1363, 1483, 1591, 1627, 1746, 1782, 1866, 1902, 2082, 2585, 2657, 2681, 2741, 2825, 3088, 3124, 3471, 3555, 3699, 3795, 3878, 3926, 4369, 4501, 4777, 4825, 5052, 5136, 5340, 5914, 6034, 6250, 6286, 6346, 6394, 6453, 7076, 7316, 7388, 7436, 7615, 7675, 7735, 7783, 7891, 7963, 8118, 8178, 8238, 8357, 8477, 8537, 8645, 8705, 8765, 8825, 8897, 8996, 9148, 9519, 9591];
const r6046 = [46, 94, 166, 453, 513, 573, 837, 1088, 1148, 1208, 1304, 1351, 1399, 1543, 1603, 1651, 1723, 1783, 1902, 1950, 2118, 2154, 2286, 2418, 2454, 2525, 2633, 2789, 3220, 3567, 3603, 3675, 3735, 3950, 4026, 4118, 4262, 4310, 4358, 4405, 4453, 4489, 4633, 4693, 4753, 4825, 4873, 4956, 5052, 5435, 5507, 5555, 5603, 5627, 5854, 5938, 6046, 6130, 6441, 6489, 6657, 6705, 6837, 6885, 7100, 7160, 7196, 7256, 7340, 7400, 7460, 7555, 7627, 7687, 7855, 8058, 8130, 8178, 8250, 8334, 8370, 8549, 8609, 8681, 8825, 8933, 9340, 9447, 9495, 9675, 9759, 9843];
const r6045 = [107, 2022, 2166, 2250, 2669, 2944, 3974, 3998, 4094, 4166, 4238, 4358, 4657, 4705, 4777, 4861, 5184, 5579, 5998, 6190, 6861, 8441, 8777];
const r6044 = [369, 597, 1040, 1124, 1878, 1950, 2010, 2070, 2286, 2585, 2633, 2681, 2813, 2849, 3507, 3663, 3759, 3842, 3914, 4597, 4621, 4741, 4825, 5304, 5507, 5603, 5771, 5998, 6322, 6358, 6477, 7004, 7076, 7891, 7974, 8106, 8130, 8441, 8573, 8753, 8789, 8920, 9124, 9831];
const r6043 = [70, 1579, 2250, 3399, 5711, 7304, 7879, 8441, 9112];
const r6042 = [752, 920, 968, 1315, 3244, 3878, 4010, 4310, 5016, 5387, 5471, 6513, 6729, 7052, 7160, 7196, 7328, 7747, 8346];
const r6041 = [250, 1843, 2118, 3998, 5435, 5579, 6082, 6178, 6226, 6944, 7579, 8741, 9268];
const r6040 = [47, 741, 1411, 2537, 3375, 3866, 4429, 6166, 6262, 6681, 7364, 7759, 8322, 8609, 8717, 8944, 9627];
const r6039 = [3160, 3316, 3950, 6621, 7064, 8741];
const r6038 = [2262, 3495, 4166, 6669, 8058, 9220];
const r6037 = [1687, 7436, 8861];
const r6036 = [1256, 3519];
const r6035 = [1591, 6561, 6621, 7316];
const r6034 = [6106, 9280];
const r6033 = [9052];

const levels = [6091, 6090, 6089, 6088, 6087, 6086, 6085, 6084, 6083, 6082, 6081, 6080, 6079, 6078, 6077, 6076, 6075, 6074, 6073, 6072, 6071, 6070, 6069, 6068, 6067, 6066, 6065, 6064, 6063, 6062, 6061, 6060, 6059, 6058, 6057, 6056, 6055, 6054, 6053, 6052, 6051, 6050, 6049, 6048, 6047, 6046, 6045, 6044, 6043, 6042, 6041, 6040, 6039, 6038, 6037, 6036, 6035, 6034, 6033];
const rows = [r6091, r6090, r6089, r6088, r6087, r6086, r6085, r6084, r6083, r6082, r6081, r6080, r6079, r6078, r6077, r6076, r6075, r6074, r6073, r6072, r6071, r6070, r6069, r6068, r6067, r6066, r6065, r6064, r6063, r6062, r6061, r6060, r6059, r6058, r6057, r6056, r6055, r6054, r6053, r6052, r6051, r6050, r6049, r6048, r6047, r6046, r6045, r6044, r6043, r6042, r6041, r6040, r6039, r6038, r6037, r6036, r6035, r6034, r6033];

const points = [];
rows.forEach((row, i) => row.forEach(x => points.push({ x: x, y: levels[i] })));

const FONT = '"DejaVu Sans"';

// Top and right spines, Chart.js only draws the left and bottom ones here
const frame = {
  id: 'frame',
  afterDatasetsDraw(chart) {
    const a = chart.chartArea;
    const ctx = chart.ctx;
    ctx.save();
    ctx.strokeStyle = '#000';
    ctx.lineWidth = 1.1;
    ctx.strokeRect(a.left, a.top, a.right - a.left, a.bottom - a.top);
    ctx.restore();
  }
};

// Matplotlib style legend box, drawn on top of the points
const legendBox = {
  id: 'legendBox',
  afterDraw(chart) {
    const ctx = chart.ctx;
    ctx.save();
    ctx.beginPath();
    ctx.roundRect(771.5, 42.5, 207, 45, 3);
    ctx.fillStyle = 'rgba(255,255,255,0.8)';
    ctx.fill();
    ctx.strokeStyle = 'rgba(204,204,204,0.8)';
    ctx.lineWidth = 1;
    ctx.stroke();

    ctx.fillStyle = '#000';
    ctx.beginPath();
    ctx.arc(791, 65, 2.75, 0, Math.PI * 2);
    ctx.fill();

    ctx.textBaseline = 'alphabetic';
    ctx.textAlign = 'left';
    ctx.font = '13.9px ' + FONT;
    ctx.fillText('Samples', 817, 59);
    let x = 817;
    const parts = [['μ', true], [' = 6063.33, ', false], ['σ', true], [' = 8.33', false]];
    parts.forEach(p => {
      ctx.font = (p[1] ? 'italic ' : '') + '13.9px ' + FONT;
      ctx.fillText(p[0], x, 76);
      x += ctx.measureText(p[0]).width;
    });
    ctx.restore();
  }
};

const config = {
  type: 'scatter',
  data: {
    datasets: [{
      label: 'Samples',
      data: points,
      pointRadius: 2.75,
      pointBorderWidth: 0,
      pointBackgroundColor: '#000',
      showLine: false
    }]
  },
  options: {
    responsive: false,
    animation: false,
    layout: { padding: { left: 0, right: 15, top: 0, bottom: 0 } },
    plugins: {
      legend: { display: false },
      tooltip: { enabled: false },
      title: {
        display: true,
        fullSize: false,
        text: 'Run 485, channel029, Pedestal',
        color: '#000',
        font: { family: FONT, size: 16.67, weight: 'normal', lineHeight: 1.2 },
        padding: { top: 12, bottom: 4 }
      }
    },
    scales: {
      x: {
        type: 'linear',
        min: -485,
        max: 10343,
        afterBuildTicks: s => { s.ticks = xTicks.map(v => ({ value: v })); },
        afterFit: s => { s.height = 59; },
        ticks: {
          color: '#000',
          maxRotation: 0,
          autoSkip: false,
          font: { family: FONT, size: 13.9 },
          padding: 5,
          callback: v => String(v)
        },
        grid: { color: '#b0b0b0', lineWidth: 1.1, tickColor: '#000', tickLength: 5 },
        border: { color: '#000', width: 1.1 },
        title: {
          display: true,
          text: 'Sample #',
          color: '#000',
          font: { family: FONT, size: 13.9 },
          padding: { top: 6, bottom: 13 }
        }
      },
      y: {
        type: 'linear',
        min: 6030.14,
        max: 6093.92,
        afterBuildTicks: s => { s.ticks = yTicks.map(v => ({ value: v })); },
        afterFit: s => { s.width = 81; },
        ticks: {
          color: '#000',
          autoSkip: false,
          font: { family: FONT, size: 13.9 },
          padding: 6,
          callback: v => String(v)
        },
        grid: { color: '#b0b0b0', lineWidth: 1.1, tickColor: '#000', tickLength: 5 },
        border: { color: '#000', width: 1.1 },
        title: {
          display: true,
          text: 'ADC Counts',
          color: '#000',
          font: { family: FONT, size: 13.9 },
          padding: { top: 13, bottom: 0 }
        }
      }
    }
  },
  plugins: [frame, legendBox]
};

const chart = new Chart(document.getElementById('myChart'), config);
</script>
</body>
</html>
